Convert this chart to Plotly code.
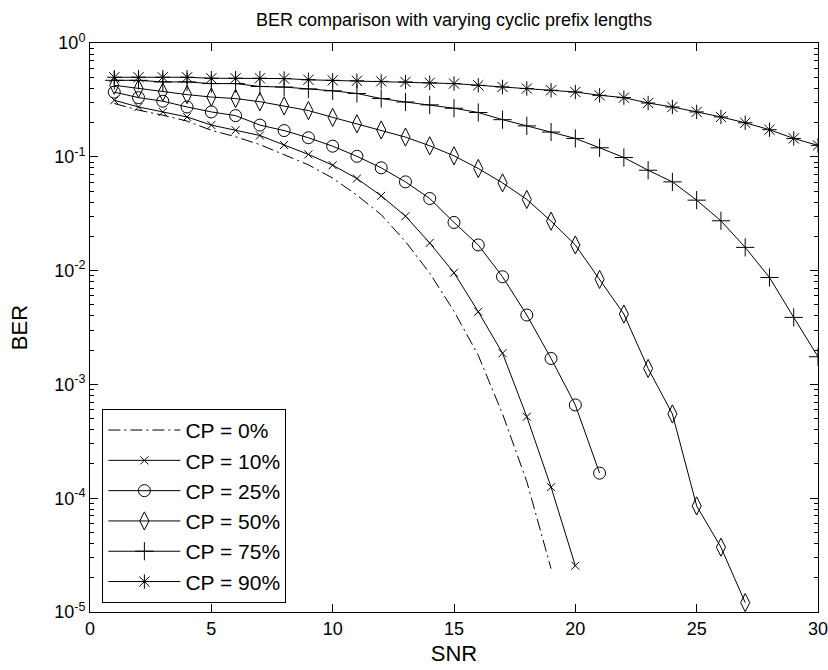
import plotly.graph_objects as go

snr = list(range(1, 31))

cp0 = [0.294, 0.257, 0.232, 0.206, 0.171, 0.150, 0.128, 0.105, 0.085, 0.065,
       0.046, 0.031, 0.018, 0.0095, 0.0044, 0.0018, 5.5e-4, 1.4e-4, 2.4e-5]
cp10 = [0.314, 0.274, 0.248, 0.224, 0.190, 0.171, 0.154, 0.127, 0.105, 0.0844,
        0.0644, 0.0454, 0.0301, 0.0175, 0.00957, 0.00435, 0.00188, 5.2e-4, 1.25e-4, 2.55e-5]
cp25 = [0.370, 0.331, 0.308, 0.274, 0.248, 0.230, 0.190, 0.170, 0.147, 0.124,
        0.101, 0.080, 0.0602, 0.043, 0.0265, 0.0168, 0.00883, 0.00407, 0.00169, 6.6e-4,
        1.66e-4]
cp50 = [0.425, 0.398, 0.371, 0.352, 0.335, 0.325, 0.305, 0.280, 0.255, 0.222,
        0.195, 0.172, 0.149, 0.125, 0.102, 0.0789, 0.059, 0.0422, 0.0272, 0.0168,
        0.00837, 0.00415, 0.00138, 5.5e-4, 8.55e-5, 3.71e-5, 1.21e-5]
cp75 = [0.470, 0.470, 0.455, 0.455, 0.440, 0.440, 0.415, 0.410, 0.395, 0.380,
        0.360, 0.325, 0.303, 0.286, 0.267, 0.245, 0.212, 0.187, 0.165, 0.145,
        0.120, 0.0986, 0.0762, 0.0602, 0.0416, 0.0274, 0.0160, 0.0087, 0.00388, 0.00175]
cp90 = [0.500, 0.500, 0.500, 0.500, 0.490, 0.490, 0.490, 0.487, 0.475, 0.470,
        0.465, 0.460, 0.455, 0.447, 0.440, 0.425, 0.411, 0.398, 0.384, 0.371,
        0.347, 0.331, 0.297, 0.274, 0.248, 0.224, 0.199, 0.173, 0.145, 0.126]

names = ["CP = 0%", "CP = 10%", "CP = 25%", "CP = 50%", "CP = 75%", "CP = 90%"]
series = [cp0, cp10, cp25, cp50, cp75, cp90]
symbols = [None, "x-thin-open", "circle-open", "diamond-tall-open", "cross-thin-open", "asterisk-open"]
msizes = [0, 8, 12, 13, 13, 12]

ytickvals = [1, 0.1, 0.01, 0.001, 1e-4, 1e-5]
yticktext = ["10<sup>0</sup>", "10<sup>-1</sup>", "10<sup>-2</sup>", "10<sup>-3</sup>",
             "10<sup>-4</sup>", "10<sup>-5</sup>"]

fig = go.Figure()
for name, ys, sym, ms in zip(names, series, symbols, msizes):
    xs = snr[:len(ys)]
    if sym is None:
        fig.add_trace(go.Scatter(x=xs, y=ys, name=name, mode="lines",
                                 line=dict(color="black", width=1, dash="12px,4px,2px,4px")))
    else:
        fig.add_trace(go.Scatter(x=xs, y=ys, name=name, mode="lines+markers",
                                 line=dict(color="black", width=1),
                                 marker=dict(symbol=sym, size=ms, color="black",
                                             line=dict(color="black", width=1))))

font = "Liberation Sans, Arial, sans-serif"
fig.update_layout(
    width=828, height=670,
    margin=dict(l=90, r=10, t=43, b=58, autoexpand=False),
    paper_bgcolor="white", plot_bgcolor="white",
    font=dict(family=font, size=18, color="black"),
    title=dict(text="BER comparison with varying cyclic prefix lengths",
               x=(90 + 818) / 2 / 828, xanchor="center", y=1 - 20 / 670, yanchor="middle",
               font=dict(size=18)),
    showlegend=True,
    legend=dict(x=0.017, y=0.016, xanchor="left", yanchor="bottom",
                bgcolor="white", bordercolor="black", borderwidth=1,
                font=dict(size=21), tracegroupgap=0, itemwidth=72),
)
fig.update_xaxes(range=[0, 30], dtick=5, tick0=0, showgrid=False, zeroline=False,
                 showline=True, linecolor="black", linewidth=1, mirror="ticks",
                 ticks="inside", ticklen=8, tickcolor="black", ticklabeloverflow="allow",
                 automargin=False,
                 title=dict(text="SNR", standoff=8), tickfont=dict(size=18))
fig.update_yaxes(type="log", range=[-5, 0], tickmode="array", tickvals=ytickvals,
                 ticktext=yticktext, showgrid=False, zeroline=False,
                 showline=True, linecolor="black", linewidth=1, mirror="ticks",
                 ticks="inside", ticklen=8, tickcolor="black",
                 automargin=False,
                 minor=dict(ticks="inside", ticklen=4, dtick="D1", tickcolor="black", showgrid=False),
                 title=dict(text="BER", standoff=20), tickfont=dict(size=18))

fig.write_html("out.html")
